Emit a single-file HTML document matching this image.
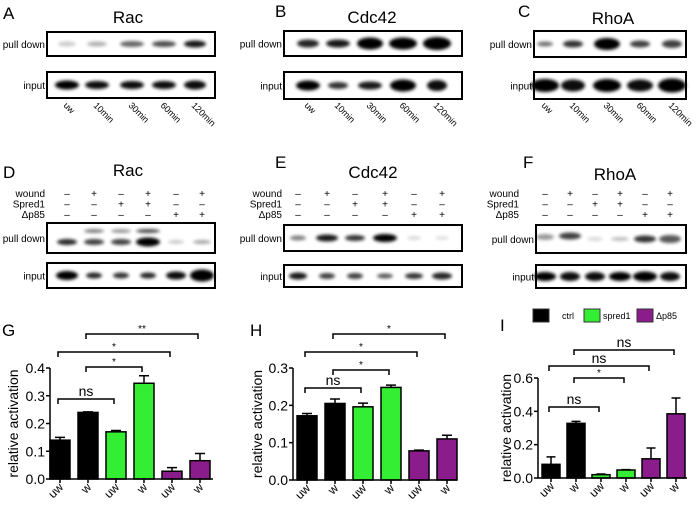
<!DOCTYPE html>
<html><head><meta charset="utf-8"><style>
html,body{margin:0;padding:0;background:#fff;}
svg{display:block;font-family:"Liberation Sans",Arial,sans-serif;}
</style></head><body>
<svg id="fig" width="696" height="507" viewBox="0 0 696 507" xmlns="http://www.w3.org/2000/svg">
<defs>
<filter id="blur" x="-50%" y="-100%" width="200%" height="300%"><feGaussianBlur stdDeviation="1.6"/></filter>
</defs>
<g id="blots"></g>
<g id="charts"></g>
</svg>
<script>
// ---- chart data ----
const catLabels = ["uw","w","uw","w","uw","w"];
const groupOf = ["ctrl","ctrl","spred1","spred1","dp85","dp85"];
const gValues = [0.14,0.24,0.17,0.345,0.028,0.066];
const gErrors = [0.01,0.002,0.005,0.027,0.013,0.026];
const gTicks = [0,0.1,0.2,0.3,0.4];
const hValues = [0.172,0.205,0.196,0.248,0.078,0.11];
const hErrors = [0.006,0.012,0.01,0.006,0.002,0.01];
const hTicks = [0,0.1,0.2,0.3];
const iValues = [0.082,0.328,0.02,0.048,0.115,0.385];
const iErrors = [0.045,0.012,0.004,0.002,0.065,0.095];
const iTicks = [0,0.2,0.4,0.6];
const gBrackets = [[0,2,"ns"],[1,3,"*"],[0,4,"*"],[1,5,"**"]];
const hBrackets = [[0,2,"ns"],[1,3,"*"],[0,4,"*"],[1,5,"*"]];
const iBrackets = [[0,2,"ns"],[1,3,"*"],[0,4,"ns"],[1,5,"ns"]];
const legendNames = ["ctrl","spred1","Δp85"];

const NS="http://www.w3.org/2000/svg";
const colors={ctrl:"#000000",spred1:"#33ee33",dp85:"#8b1c8b"};
function mk(tag,attrs,parent,txt){const e=document.createElementNS(NS,tag);for(const k in attrs)e.setAttribute(k,attrs[k]);if(txt!==undefined)e.textContent=txt;parent.appendChild(e);return e;}

const charts=document.getElementById('charts');
function drawChart(id,letter,vals,errs,ticks,brackets,L){
  const g=mk('g',{},charts);
  
  
  const yMax=ticks[ticks.length-1];
  const ys=v=>L.y0-(v/yMax)*(L.y0-L.yTop);
  const xs=i=>L.x0+L.first+i*L.step;
  const lt=mk('text',{x:L.lx,y:L.ly,'font-size':17},g,letter);
  
  vals.forEach((v,i)=>{
    const c=xs(i);
    const b=mk('rect',{x:c-L.bw/2,y:ys(v),width:L.bw,height:L.y0-ys(v),fill:colors[groupOf[i]],stroke:'#000','stroke-width':1.5},g);
    
    
    const et=ys(v+errs[i]);
    mk('path',{d:`M${c},${ys(v)}V${et}M${c-L.bw/4},${et}H${c+L.bw/4}`,stroke:'#000','stroke-width':1.5,fill:'none'},g);
    const t=mk('text',{transform:`translate(${c+4},${L.y0+9}) rotate(-45)`,'text-anchor':'end','font-size':12},g,catLabels[i]);
    
    
  });
  mk('path',{d:`M${L.x0},${L.yTop}V${L.y0}H${L.xEnd}`,stroke:'#000','stroke-width':1.5,fill:'none'},g);
  ticks.forEach(t=>{
    const y=ys(t);
    mk('line',{x1:L.x0-4,x2:L.x0,y1:y,y2:y,stroke:'#000','stroke-width':1.5},g);
    const tl=mk('text',{x:L.x0-5,y:y+5,'text-anchor':'end','font-size':14},g,t.toFixed(1));
    
    
  });
  vals.forEach((v,i)=>mk('line',{x1:xs(i),x2:xs(i),y1:L.y0,y2:L.y0+4,stroke:'#000','stroke-width':1.5},g));
  const yt=mk('text',{transform:`translate(${L.tx},${(L.y0+L.yTop)/2}) rotate(-90)`,'text-anchor':'middle','font-size':14},g,'relative activation');
  
  brackets.forEach((br,k)=>{
    const y=L.by[k];const a=xs(br[0])-2,b=xs(br[1])-2;
    const bg=mk('g',{},g);
    
    
    mk('path',{d:`M${a},${y+5}V${y}H${b}V${y+5}`,stroke:'#000','stroke-width':1.5,fill:'none'},bg);
    const ns=br[2]==='ns';
    mk('text',{x:(a+b)/2,y:ns?y-3:y-2,'text-anchor':'middle','font-size':ns?14:10},bg,br[2]);
  });
}
drawChart('g','G',gValues,gErrors,gTicks,gBrackets,{x0:50,y0:479,yTop:368,xEnd:213,first:10,step:28,bw:20,lx:2,ly:336,tx:18,by:[399,367,352,334]});
drawChart('h','H',hValues,hErrors,hTicks,hBrackets,{x0:293,y0:480,yTop:368,xEnd:457,first:14,step:28,bw:20,lx:250,ly:336,tx:262,by:[388,370,352,334]});
drawChart('i','I',iValues,iErrors,iTicks,iBrackets,{x0:538,y0:478,yTop:378,xEnd:687,first:13,step:25,bw:18,lx:500,ly:331,tx:511,by:[407,378,366,350]});
const lg=mk('g',{},charts);


[["ctrl",533,562],["spred1",584,603],["dp85",637,656]].forEach((e,k)=>{
  const eg=mk('g',{},lg);
  
  
  mk('rect',{x:e[1],y:309,width:16,height:13,fill:colors[e[0]],stroke:'#333','stroke-width':1},eg);
  mk('text',{x:e[2],y:319,'font-size':9},eg,legendNames[k]);
});

// ---- blots ----
const blots=document.getElementById('blots');
function blotBox(x1,x2,y1,y2,label,lanes,bands,name){
  const g=mk('g',{},blots);
  
  
  mk('rect',{x:x1,y:y1,width:x2-x1,height:y2-y1,fill:'#fff',stroke:'#000','stroke-width':2},g);
  const cy=(y1+y2)/2;
  lanes.forEach((lx,i)=>{const b=bands[i];if(!b)return;
    mk('ellipse',{cx:lx,cy:cy+(b[3]||0),rx:b[1],ry:b[2],fill:'#000',opacity:b[0],filter:'url(#blur)'},g);
    if(b[4]) mk('ellipse',{cx:lx,cy:cy-7,rx:b[1],ry:2,fill:'#000',opacity:b[4],filter:'url(#blur)'},g);
  });
  mk('text',{x:x1-2,y:cy+4,'text-anchor':'end','font-size':10},g,label);
}
function title(x,y,t,name){const e=mk('text',{x:x,y:y,'text-anchor':'middle','font-size':17},blots,t);}
function letter(x,y,t){const e=mk('text',{x:x,y:y,'font-size':17},blots,t);}
function timeLabels(lanes,y){["uw","10min","30min","60min","120min"].forEach((t,i)=>{mk('text',{transform:`translate(${lanes[i]-4},${y}) rotate(45)`,'font-size':9},blots,t);});}
function signs(lanes,rx,y,rows){
  const names=["wound","Spred1","Δp85"];
  rows.forEach((r,k)=>{
    mk('text',{x:rx,y:y+k*10.5,'text-anchor':'end','font-size':10},blots,names[k]);
    r.split('').forEach((c,i)=>mk('text',{x:lanes[i],y:y+k*10.5,'text-anchor':'middle','font-size':10},blots,c==='+'?'+':'–'));
  });
}
// A
letter(3,19,'A');title(128,23,'Rac','title-rac-a');
const lA=[67,97,132,164,195];
blotBox(47,215,32,56,'pull down',lA,[[0.2,9,2.5],[0.3,10,2.5],[0.6,12,3],[0.7,12,3],[0.9,11,3.5]],'blot-a-pulldown');
blotBox(47,215,72,98,'input',lA,[[1,12,4.5],[0.95,12,4],[0.95,12,4],[0.95,12,4],[0.95,11,4.5]],'blot-a-input');
timeLabels(lA,106);
// B
letter(275,17,'B');title(372,23,'Cdc42','title-cdc42-b');
const lB=[308,338,370,403,437];
blotBox(284,462,31,56,'pull down',lB,[[0.85,11,4],[0.9,12,4],[1,13,6],[1,14,6],[1,14,6.5]],'blot-b-pulldown');
blotBox(284,462,72,99,'input',lB,[[1,12,5],[0.8,10,3.5],[0.9,12,4],[1,13,6],[0.95,10,5.5]],'blot-b-input');
timeLabels(lB,106);
// C
letter(518,17,'C');title(613,24,'RhoA','title-rhoa-c');
const lC=[545,573,607,640,672];
blotBox(534,686,31,57,'pull down',lC,[[0.55,8,2.5],[0.8,10,3.5],[1,13,6],[0.75,10,3.5],[0.75,10,4]],'blot-c-pulldown');
blotBox(534,686,72,99,'input',lC,[[1,14,6.5],[0.95,12,6],[1,14,6.5],[0.95,13,6],[1,14,7]],'blot-c-input');
timeLabels(lC,106);
// D
letter(3,178,'D');title(128,176,'Rac','title-rac-d');
const lD=[67,94,121,148,176,202];
const rows=["-+-+-+","--++--","----++"];
signs(lD,45,197,rows);
blotBox(47,215,223,253,'pull down',lD,[[0.85,10,3,4],[0.75,10,3,4,0.5],[0.75,10,3,4,0.4],[1,12,4.5,4,0.7],[0.2,8,2,4],[0.35,9,2,4]],'blot-d-pulldown');
blotBox(47,215,263,288,'input',lD,[[1,11,4.5],[0.85,8,3],[0.8,8,3],[0.85,8,3],[0.95,10,4],[1,12,6]],'blot-d-input');
// E
letter(275,168,'E');title(373,178,'Cdc42','title-cdc42-e');
const lE=[298,327,355,385,414,442];
signs(lE,282,197,rows);
blotBox(284,462,225,251,'pull down',lE,[[0.5,8,2.5],[0.9,11,3.5],[0.8,10,3],[1,12,4],[0.15,7,2],[0.12,7,2]],'blot-e-pulldown');
blotBox(284,462,265,287,'input',lE,[[0.9,9,3.5],[0.75,8,3],[0.75,8,3],[0.65,8,2.5],[0.8,9,3],[0.85,10,3.5]],'blot-e-input');
// F
letter(523,168,'F');title(615,180,'RhoA','title-rhoa-f');
const lF=[545,570,595,620,645,670];
signs(lF,519,197,rows);
blotBox(536,686,225,253,'pull down',lF,[[0.4,9,3,-2],[0.75,11,3.5,-3],[0.15,8,2],[0.25,9,2],[0.8,11,3.5],[0.65,11,4]],'blot-f-pulldown');
blotBox(536,686,265,288,'input',lF,[[1,11,4.5],[0.95,10,4.5],[0.95,10,4.5],[1,11,4.5],[1,12,5],[0.95,10,4.5]],'blot-f-input');
</script>
</body></html>
